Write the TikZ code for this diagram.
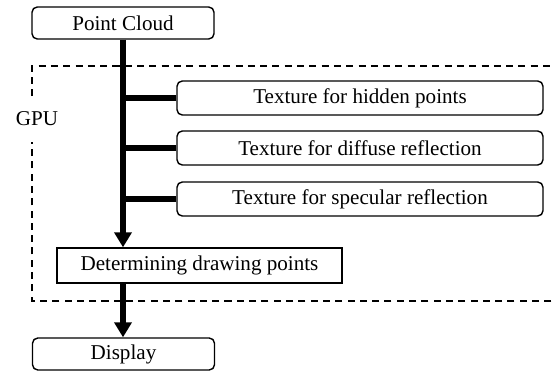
\documentclass[tikz,border=0pt]{standalone}
\usepackage{fontspec}
\setmainfont{Liberation Serif}
\usetikzlibrary{arrows.meta}
\begin{document}
\begin{tikzpicture}[thick,font=\fontsize{12}{14}\selectfont,
  stage/.style={draw, rounded corners=3pt, minimum width=3.64cm, minimum height=0.64cm, inner sep=0pt},
  texbox/.style={draw, rounded corners=3pt, minimum width=7.32cm, minimum height=0.68cm, inner sep=0pt},
  flow/.style={line width=2.85pt},
  tip/.style={-{Triangle[width=0.34cm,length=0.3cm]}}]
  \useasboundingbox (0,0) rectangle (11.06,7.44);
  \node[stage] (Cloud) at (2.46, 6.98) {Point Cloud};
  \node[texbox] (T1) at (7.2, 5.48) {Texture for hidden points};
  \node[texbox] (T2) at (7.2, 4.48) {Texture for diffuse reflection};
  \node[texbox] (T3) at (7.2, 3.46) {Texture for specular reflection};
  \node[draw, minimum width=5.7cm, minimum height=0.7cm, inner sep=0pt] (Det) at (3.99, 2.13) {Determining drawing points};
  \node[stage] (Disp) at (2.47, 0.36) {Display};
  \node[inner ysep=0.3cm, inner xsep=0pt] (GPU) at (0.74, 5.06) {GPU};
  
  % GPU area
  \draw[dash pattern=on 4pt off 3pt] (GPU.north -| 0.64,0) -- (0.64, 6.12) -- (11.3, 6.12) -- (11.3, 1.42) -- (0.64, 1.42) -- (GPU.south -| 0.64,0);
  
  \draw[flow,tip] (Cloud.south) -- (Cloud.south |- Det.north);
  \draw[flow] (T1.west) -- (T1.west -| Cloud.south);
  \draw[flow] (T2.west) -- (T2.west -| Cloud.south);
  \draw[flow] (T3.west) -- (T3.west -| Cloud.south);
  \draw[flow,tip] (Det.south -| Cloud.south) -- (Disp.north -| Cloud.south);
\end{tikzpicture}
\end{document}
